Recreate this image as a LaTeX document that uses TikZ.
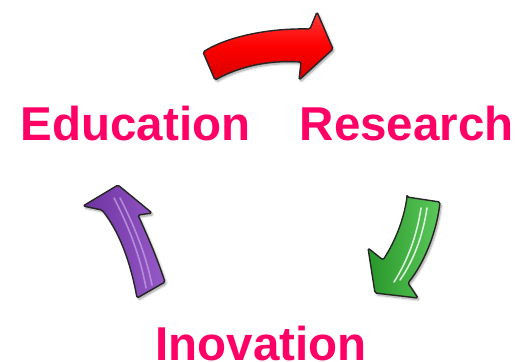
\documentclass[tikz,border=0pt]{standalone}
\usepackage{fontspec}
\setmainfont{Liberation Sans}
\usetikzlibrary{shadows.blur}
\definecolor{pinktxt}{RGB}{255,0,102}
\definecolor{redA}{RGB}{255,60,60}
\definecolor{redB}{RGB}{215,0,0}
\definecolor{greenA}{RGB}{40,150,40}
\definecolor{greenB}{RGB}{90,200,90}
\definecolor{purpA}{RGB}{110,50,160}
\definecolor{purpB}{RGB}{150,90,200}
\begin{document}
\begin{tikzpicture}[x=1pt,y=-1pt,
  lbl/.style={font=\bfseries\fontsize{47.5}{47.5}\selectfont, text=pinktxt, anchor=base west, inner sep=0pt},
  arrowshape/.style={draw=black!85, line width=1.4pt, line join=round, rounded corners=1.5pt,
    blur shadow={shadow xshift=1.5pt, shadow yshift=-2pt, shadow blur steps=6, shadow opacity=40}},
  gloss/.style={line width=1.6pt, line cap=round, opacity=0.8}]
\useasboundingbox (0,0) rectangle (518,361);
% labels
\node[lbl] (edu) at (20.5,140) {Education};
\node[lbl] (res) at (299.5,140) {Research};
\node[lbl] (ino) at (155.5,360) {Inovation};
% red arrow
\path[arrowshape, top color=redA, bottom color=redB, middle color=red]
  (203,52) .. controls (225,38) and (265,28) .. (310,29) -- (317,12) -- (333,49)
  -- (299,80) -- (301,62) .. controls (270,60) and (240,66) .. (215,80) -- cycle;
% green arrow
\path[arrowshape, left color=greenA, right color=greenB]
  (407,197) -- (440,202) .. controls (437,230) and (425,262) .. (408,283)
  -- (418,298) -- (375,293) -- (368,248) -- (383,260)
  .. controls (396,240) and (404,218) .. (407,197) -- cycle;
\draw[gloss, white] (421,208) .. controls (417,235) and (408,260) .. (394,282);
\draw[gloss, white] (427,208) .. controls (423,235) and (414,260) .. (400,280);
% purple arrow
\path[arrowshape, left color=purpA, right color=purpB]
  (118,185) -- (152,213) -- (138,215) .. controls (147,235) and (156,255) .. (165,282)
  -- (137,298) .. controls (132,270) and (122,235) .. (102,210) -- (83,206) -- cycle;
\draw[gloss, purpB!60!white] (114,198) .. controls (128,225) and (140,255) .. (146,288);
\draw[gloss, purpB!60!white] (120,198) .. controls (134,225) and (146,255) .. (152,285);
\end{tikzpicture}
\end{document}
